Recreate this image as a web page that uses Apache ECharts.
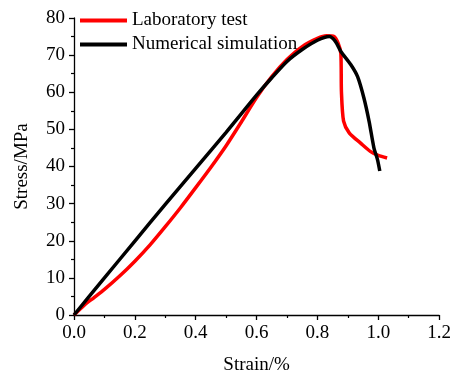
<!DOCTYPE html>
<html>
<head>
<meta charset="utf-8">
<script src="https://cdn.jsdelivr.net/npm/echarts@6/dist/echarts.min.js"></script>
<style>html,body{margin:0;padding:0;background:#fff}#c{width:454px;height:381px}</style>
</head>
<body>
<div id="c"></div>
<script>
const seriesNames = ['Laboratory test', 'Numerical simulation'];
const labStrain = [0,0.033,0.066,0.1,0.15,0.2,0.25,0.3,0.35,0.4,0.45,0.5,0.55,0.6,0.65,0.7,0.75,0.8,0.83,0.855,0.868,0.877,0.879,0.886,0.905,0.942,0.975,1.0,1.029];
const labStress = [0,2.6,4.7,6.9,10.5,14.5,18.9,23.8,28.9,34.3,39.8,45.6,52,58.6,64.2,68.8,72.3,74.5,75.2,75.0,73.2,70.5,60,52.2,49.0,46.3,44.0,43.0,42.3];
const simStrain = [0,0.1,0.2,0.3,0.4,0.5,0.6,0.65,0.7,0.75,0.8,0.839,0.859,0.877,0.91,0.932,0.953,0.97,0.986,0.997,1.005];
const simStress = [0,10,19.9,29.8,39.5,49.2,59.2,63.9,68.3,71.5,74.0,75.0,73.7,71.0,67.4,64.2,58.4,52.1,44.9,42.0,38.8];
const xTicks = [0,0.2,0.4,0.6,0.8,1.0,1.2];
const yTicks = [0,10,20,30,40,50,60,70,80];

const font = 'Liberation Serif';
const pair = (xs, ys) => xs.map((x, i) => [x, ys[i]]);
const chart = echarts.init(document.getElementById('c'));
chart.setOption({
  animation: false,
  backgroundColor: '#fff',
  grid: {left: 74, right: 11.3, top: 18, bottom: 66, containLabel: false},
  legend: {
    left: 75, top: 6, orient: 'vertical', itemGap: 5,
    icon: 'rect', itemWidth: 47, itemHeight: 4,
    textStyle: {fontFamily: font, fontSize: 19, color: '#000'},
    data: seriesNames
  },
  xAxis: {
    type: 'value', min: xTicks[0], max: xTicks[xTicks.length-1], interval: 0.2,
    name: 'Strain/%', nameLocation: 'middle', nameGap: 41,
    nameTextStyle: {fontFamily: font, fontSize: 19, color: '#000'},
    axisLine: {lineStyle: {color: '#000', width: 1.3}},
    axisTick: {show: true, length: 5, lineStyle: {color: '#000', width: 1.3}},
    minorTick: {show: true, splitNumber: 2, length: 3, lineStyle: {color: '#000', width: 1.2}},
    splitLine: {show: false},
    axisLabel: {fontFamily: font, fontSize: 19, color: '#000', margin: 9,
      formatter: v => v.toFixed(1)}
  },
  yAxis: {
    type: 'value', min: yTicks[0], max: yTicks[yTicks.length-1], interval: 10,
    name: 'Stress/MPa', nameLocation: 'middle', nameGap: 42,
    nameTextStyle: {fontFamily: font, fontSize: 19, color: '#000'},
    axisLine: {show: true, lineStyle: {color: '#000', width: 1.3}},
    axisTick: {show: true, length: 5, lineStyle: {color: '#000', width: 1.3}},
    minorTick: {show: true, splitNumber: 2, length: 3, lineStyle: {color: '#000', width: 1.2}},
    splitLine: {show: false},
    axisLabel: {fontFamily: font, fontSize: 19, color: '#000', margin: 9}
  },
  series: [
    {name: seriesNames[0], type: 'line', data: pair(labStrain, labStress), showSymbol: false, symbol: 'none',
     smooth: 0.25, lineStyle: {color: '#ff0000', width: 3.5}, itemStyle: {color: '#ff0000'}},
    {name: seriesNames[1], type: 'line', data: pair(simStrain, simStress), showSymbol: false, symbol: 'none',
     smooth: 0.25, lineStyle: {color: '#000', width: 3.5}, itemStyle: {color: '#000'}}
  ]
});
</script>
</body>
</html>
